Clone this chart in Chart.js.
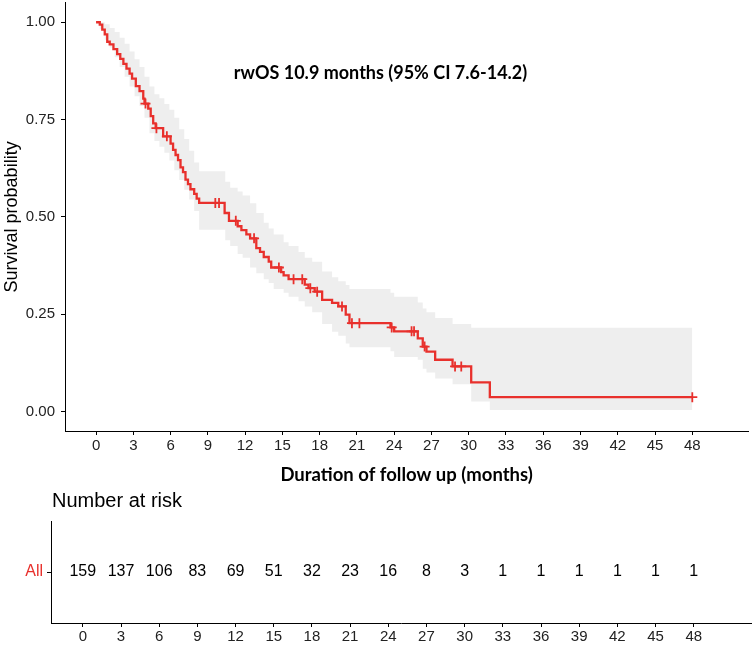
<!DOCTYPE html>
<html>
<head>
<meta charset="utf-8">
<script src="https://cdn.jsdelivr.net/npm/chart.js@4.4.1/dist/chart.umd.min.js"></script>
<style>
  html, body { margin: 0; padding: 0; background: #fff; }
  #wrap { position: relative; width: 755px; height: 646px; overflow: hidden; }
  #main { position: absolute; left: 0; top: -4px; width: 755px; height: 494px; }
  #risk { position: absolute; left: 0; top: 480px; width: 755px; height: 166px; }
</style>
</head>
<body>
<div id="wrap">
  <div id="main"><canvas id="km"></canvas></div>
  <div id="risk"><canvas id="tbl"></canvas></div>
</div>
<script>
// Kaplan-Meier curve (time in months, survival probability)
var kmTime = [0, 0.3, 0.5, 0.7, 0.9, 1.1, 1.4, 1.7, 1.95, 2.2, 2.45, 2.7, 2.9, 3.2, 3.5, 3.8, 3.9,
  4.2, 4.4, 4.6, 4.8, 5.4, 6.0, 6.2, 6.4, 6.6, 6.8, 7.0, 7.2, 7.4, 7.6, 7.9, 8.1, 8.3,
  10.35, 10.7, 11.4, 11.7, 12.1, 12.4, 12.9, 13.2, 13.5, 13.9, 14.1, 14.9, 15.1, 15.5,
  16.8, 17.1, 17.6, 18.2, 19.0, 19.5, 20.1, 20.4, 23.7, 24.0, 25.9, 26.3, 26.6, 27.3,
  28.7, 30.2, 31.7, 48];
var kmSurv = [1.0, 0.994, 0.981, 0.969, 0.950, 0.943, 0.931, 0.918, 0.906, 0.893, 0.881, 0.868, 0.855, 0.836, 0.823, 0.804, 0.791,
  0.778, 0.759, 0.740, 0.728, 0.707, 0.688, 0.672, 0.659, 0.646, 0.627, 0.615, 0.596, 0.584, 0.571, 0.559, 0.547, 0.536,
  0.510, 0.490, 0.476, 0.466, 0.455, 0.445, 0.420, 0.410, 0.397, 0.385, 0.370, 0.358, 0.350, 0.340,
  0.326, 0.317, 0.308, 0.287, 0.279, 0.270, 0.249, 0.227, 0.216, 0.206, 0.188, 0.167, 0.154, 0.133,
  0.116, 0.075, 0.037, 0.037];

// censored observations
var censorTime = [3.98, 4.86, 5.7, 9.6, 9.9, 11.25, 12.72, 14.72, 15.9, 16.6, 17.25, 17.8, 19.8,
  20.6, 21.2, 23.8, 25.4, 25.6, 26.45, 28.9, 29.4, 48];
var censorSurv = [0.791, 0.728, 0.707, 0.536, 0.536, 0.490, 0.445, 0.370, 0.340, 0.340, 0.317, 0.308, 0.270,
  0.227, 0.227, 0.216, 0.206, 0.206, 0.167, 0.116, 0.116, 0.037];

// 95% confidence band
var bandTime = [0, 0.3, 0.7, 1.1, 1.5, 1.9, 2.3, 2.7, 3.1, 3.5, 3.9, 4.3, 4.7, 5.1, 5.5, 5.9, 6.3, 6.7,
  7.1, 7.5, 7.9, 8.3, 10.4, 10.8, 11.4, 11.8, 12.4, 12.9, 13.5, 13.9, 14.3, 15.1, 15.5, 16.3, 16.8,
  17.4, 18.2, 19.0, 19.5, 20.1, 20.4, 23.7, 24.0, 25.9, 26.3, 26.6, 27.3, 28.7, 30.2, 31.7, 48];
var bandUpper = [1.0, 1.0, 0.995, 0.985, 0.975, 0.96, 0.945, 0.925, 0.905, 0.885, 0.86, 0.835, 0.815, 0.805,
  0.79, 0.775, 0.755, 0.725, 0.70, 0.67, 0.64, 0.617, 0.59, 0.575, 0.565, 0.555, 0.535, 0.51, 0.485, 0.47,
  0.455, 0.435, 0.425, 0.41, 0.395, 0.385, 0.36, 0.345, 0.335, 0.325, 0.315, 0.305, 0.295, 0.28, 0.265,
  0.255, 0.24, 0.225, 0.215, 0.215, 0.215];
var bandLower = [1.0, 0.982, 0.955, 0.935, 0.91, 0.885, 0.86, 0.835, 0.81, 0.785, 0.755, 0.715, 0.695, 0.68,
  0.665, 0.645, 0.62, 0.595, 0.57, 0.545, 0.515, 0.467, 0.44, 0.425, 0.405, 0.395, 0.37, 0.355, 0.34, 0.33,
  0.315, 0.305, 0.295, 0.283, 0.27, 0.255, 0.225, 0.205, 0.195, 0.175, 0.165, 0.155, 0.14, 0.133, 0.11,
  0.10, 0.085, 0.07, 0.026, 0.004, 0.004];

// number at risk
var riskTimes = [0, 3, 6, 9, 12, 15, 18, 21, 24, 27, 30, 33, 36, 39, 42, 45, 48];
var riskCounts = [159, 137, 106, 83, 69, 51, 32, 23, 16, 8, 3, 1, 1, 1, 1, 1, 1];

var xTicks = riskTimes;
var yTicks = [0, 0.25, 0.5, 0.75, 1];
var annotText = 'rwOS 10.9 months (95% CI 7.6-14.2)';
var annotPos = [22.9, 0.869];

var red = '#e8302c';
var tickFont = { family: '"Liberation Sans", Arial, sans-serif', size: 15 };

function pts(xs, ys) {
  return xs.map(function (x, i) { return { x: x, y: ys[i] }; });
}

// keep the plot area where the reference has it (no extra room for the end tick labels)
function noPad(s) {
  s.paddingTop = 0;
  s.paddingBottom = 0;
}

var annotPlugin = {
  id: 'annot',
  afterDraw: function (chart) {
    var ctx = chart.ctx;
    ctx.save();
    ctx.font = 'bold 18px Lato, "Open Sans", sans-serif';
    ctx.fillStyle = '#000';
    ctx.textAlign = 'center';
    ctx.textBaseline = 'middle';
    ctx.fillText(annotText, chart.scales.x.getPixelForValue(annotPos[0]), chart.scales.y.getPixelForValue(annotPos[1]));
    ctx.restore();
  }
};

new Chart(document.getElementById('km'), {
  type: 'scatter',
  data: {
    datasets: [
      { data: pts(bandTime, bandUpper), showLine: true, stepped: true, borderWidth: 0, pointRadius: 0, fill: false, order: 4 },
      { data: pts(bandTime, bandLower), showLine: true, stepped: true, borderWidth: 0, pointRadius: 0,
        fill: 0, backgroundColor: '#eeeeee', order: 3 },
      { data: pts(kmTime, kmSurv), showLine: true, stepped: true, borderColor: red, borderWidth: 2.3,
        pointRadius: 0, fill: false, order: 2 },
      { data: pts(censorTime, censorSurv), pointStyle: 'cross', pointRadius: 5, borderColor: red,
        borderWidth: 1.8, backgroundColor: red, order: 1 }
    ]
  },
  options: {
    responsive: true,
    maintainAspectRatio: false,
    devicePixelRatio: 1,
    animation: false,
    layout: { padding: { top: 1, right: 3, left: 0, bottom: 0 } },
    plugins: { legend: { display: false }, tooltip: { enabled: false } },
    scales: {
      x: {
        type: 'linear', min: -2.5, max: 52.5,
        afterBuildTicks: function (s) { s.ticks = xTicks.map(function (v) { return { value: v }; }); },
        afterFit: function (s) { s.height = 59; },
        grid: { drawOnChartArea: false, tickLength: 4, tickColor: '#000' },
        border: { color: '#000', width: 1 },
        ticks: { font: tickFont, color: '#222', padding: 2, maxRotation: 0 },
        title: { display: true, text: 'Duration of follow up (months)', color: '#000',
          font: { family: 'Lato, "Open Sans", sans-serif', size: 18.5, weight: 'bold' }, padding: { top: 0, bottom: 4 } }
      },
      y: {
        type: 'linear', min: -0.05, max: 1.05,
        afterBuildTicks: function (s) { s.ticks = yTicks.map(function (v) { return { value: v }; }); },
        afterFit: function (s) { s.width = 65; noPad(s); },
        grid: { drawOnChartArea: false, tickLength: 4, tickColor: '#000' },
        border: { color: '#000', width: 1 },
        ticks: { font: tickFont, color: '#222', padding: 6, callback: function (v) { return v.toFixed(2); } },
        title: { display: true, text: 'Survival probability', color: '#000',
          font: { family: '"Liberation Sans", Arial, sans-serif', size: 18 }, padding: { top: 1, bottom: 0 } }
      }
    }
  },
  plugins: [annotPlugin]
});

var riskPlugin = {
  id: 'riskText',
  afterDraw: function (chart) {
    var ctx = chart.ctx, xs = chart.scales.x, ys = chart.scales.y;
    ctx.save();
    ctx.fillStyle = '#000';
    ctx.textBaseline = 'middle';
    ctx.textAlign = 'center';
    ctx.font = '16px "Liberation Sans", Arial, sans-serif';
    for (var i = 0; i < riskTimes.length; i++) {
      ctx.fillText(String(riskCounts[i]), xs.getPixelForValue(riskTimes[i]), ys.getPixelForValue(1));
    }
    ctx.textAlign = 'left';
    ctx.font = '20px "Liberation Sans", Arial, sans-serif';
    ctx.fillText('Number at risk', chart.chartArea.left + 1, 21);
    ctx.restore();
  }
};

new Chart(document.getElementById('tbl'), {
  type: 'scatter',
  data: { datasets: [{ data: pts(riskTimes, riskTimes.map(function () { return 1; })), pointRadius: 0 }] },
  options: {
    responsive: true,
    maintainAspectRatio: false,
    devicePixelRatio: 1,
    animation: false,
    layout: { padding: { top: 41, right: 4, left: 0, bottom: 0 } },
    plugins: { legend: { display: false }, tooltip: { enabled: false } },
    scales: {
      x: {
        type: 'linear', min: -2.5, max: 52.5,
        afterBuildTicks: function (s) { s.ticks = riskTimes.map(function (v) { return { value: v }; }); },
        afterFit: function (s) { s.height = 23; },
        grid: { drawOnChartArea: false, tickLength: 4, tickColor: '#000' },
        border: { color: '#000', width: 1 },
        ticks: { font: tickFont, color: '#222', padding: 1, maxRotation: 0 }
      },
      y: {
        type: 'linear', min: 0, max: 2,
        afterBuildTicks: function (s) { s.ticks = [{ value: 1 }]; },
        afterFit: function (s) { s.width = 51; noPad(s); },
        grid: { drawOnChartArea: false, tickLength: 4, tickColor: '#000' },
        border: { color: '#000', width: 1 },
        ticks: { font: { family: '"Liberation Sans", Arial, sans-serif', size: 16 }, color: red, padding: 4,
          callback: function () { return 'All'; } }
      }
    }
  },
  plugins: [riskPlugin]
});
</script>
</body>
</html>
